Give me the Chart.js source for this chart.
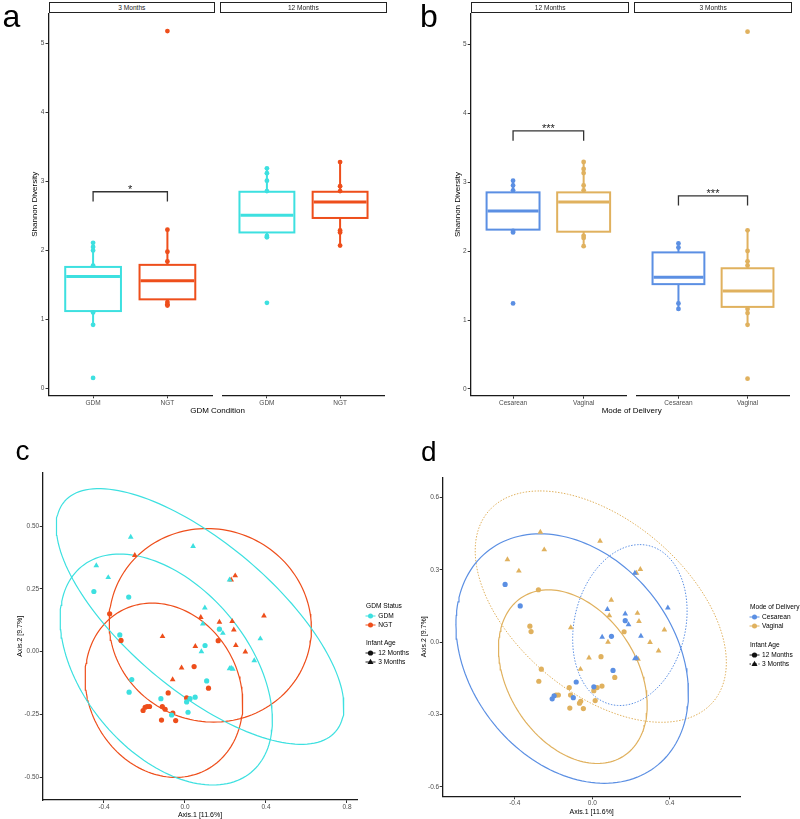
<!DOCTYPE html>
<html><head><meta charset="utf-8">
<script src="https://cdn.jsdelivr.net/npm/chart.js@4.4.1/dist/chart.umd.min.js"></script>
<style>
html,body{margin:0;padding:0;background:#fff}
body{width:800px;height:819px;position:relative;overflow:hidden;font-family:"Liberation Sans",Arial,Helvetica,sans-serif}
canvas{position:absolute}
.t{position:absolute;white-space:nowrap;color:#000}
.c{transform:translate(-50%,-50%);line-height:1}
.strip{position:absolute;box-sizing:border-box;border:1px solid #222;background:#fff;font-size:6.6px;color:#1a1a1a;display:flex;align-items:center;justify-content:center}
.lg{position:absolute;font-size:6.6px;line-height:8px;color:#000;white-space:nowrap}
svg.k{position:absolute;overflow:visible}
</style></head><body>

<canvas id="a1" width="216" height="420" style="left:0;top:0"></canvas>
<canvas id="a2" width="169" height="420" style="left:219px;top:0"></canvas>
<canvas id="b1" width="230" height="420" style="left:400px;top:0"></canvas>
<canvas id="b2" width="160" height="420" style="left:633px;top:0"></canvas>
<canvas id="cc" width="400" height="379" style="left:0;top:440px"></canvas>
<canvas id="dd" width="400" height="379" style="left:400px;top:440px"></canvas>

<div class="t" style="left:2.5px;top:-0.4px;font-size:32px;line-height:32px">a</div>
<div class="t" style="left:420px;top:-0.4px;font-size:32px;line-height:32px">b</div>
<div class="t" style="left:15.5px;top:437px;font-size:28px;line-height:28px">c</div>
<div class="t" style="left:421px;top:438px;font-size:28px;line-height:28px">d</div>

<div class="strip" style="left:48.7px;top:1.7px;width:166.3px;height:11.6px">3 Months</div>
<div class="strip" style="left:220px;top:1.7px;width:166.7px;height:11.6px">12 Months</div>
<div class="strip" style="left:471px;top:1.7px;width:158.3px;height:11.6px">12 Months</div>
<div class="strip" style="left:634px;top:1.7px;width:158.3px;height:11.6px">3 Months</div>

<div class="t c" style="left:217.5px;top:410.5px;font-size:8px">GDM Condition</div>
<div class="t c" style="left:631.7px;top:411px;font-size:8px">Mode of Delivery</div>

<!-- legend c -->
<div class="lg" style="left:366px;top:601.7px">GDM Status</div>
<svg class="k" style="left:364.5px;top:612px" width="11" height="8"><line x1="0.5" y1="4" x2="10.5" y2="4" stroke="#3de0e0" stroke-width="1"/><circle cx="5.5" cy="4" r="2.5" fill="#3de0e0"/></svg>
<div class="lg" style="left:378.3px;top:612px">GDM</div>
<svg class="k" style="left:364.5px;top:621.3px" width="11" height="8"><line x1="0.5" y1="4" x2="10.5" y2="4" stroke="#ee4e1b" stroke-width="1"/><circle cx="5.5" cy="4" r="2.5" fill="#ee4e1b"/></svg>
<div class="lg" style="left:378.3px;top:621.3px">NGT</div>
<div class="lg" style="left:366px;top:639.3px">Infant Age</div>
<svg class="k" style="left:364.5px;top:649.3px" width="11" height="8"><line x1="0.5" y1="4" x2="10.5" y2="4" stroke="#222" stroke-width="1"/><circle cx="5.5" cy="4" r="2.6" fill="#111"/></svg>
<div class="lg" style="left:378.3px;top:649.3px">12 Months</div>
<svg class="k" style="left:364.5px;top:658.3px" width="11" height="8"><line x1="0.5" y1="4" x2="10.5" y2="4" stroke="#222" stroke-width="1"/><polygon points="5.5,0.8 8.5,6 2.5,6" fill="#111"/></svg>
<div class="lg" style="left:378.3px;top:658.3px">3 Months</div>

<!-- legend d -->
<div class="lg" style="left:750px;top:602.7px">Mode of Delivery</div>
<svg class="k" style="left:748.8px;top:613px" width="11" height="8"><line x1="0.5" y1="4" x2="10.5" y2="4" stroke="#5b8fe3" stroke-width="1"/><circle cx="5.5" cy="4" r="2.5" fill="#5b8fe3"/></svg>
<div class="lg" style="left:762px;top:613px">Cesarean</div>
<svg class="k" style="left:748.8px;top:622px" width="11" height="8"><line x1="0.5" y1="4" x2="10.5" y2="4" stroke="#e0b15e" stroke-width="1"/><circle cx="5.5" cy="4" r="2.5" fill="#e0b15e"/></svg>
<div class="lg" style="left:762px;top:622px">Vaginal</div>
<div class="lg" style="left:750px;top:641px">Infant Age</div>
<svg class="k" style="left:748.8px;top:651px" width="11" height="8"><line x1="0.5" y1="4" x2="10.5" y2="4" stroke="#222" stroke-width="1"/><circle cx="5.5" cy="4" r="2.6" fill="#111"/></svg>
<div class="lg" style="left:762px;top:651px">12 Months</div>
<svg class="k" style="left:748.8px;top:660px" width="11" height="8"><line x1="0.5" y1="4" x2="10.5" y2="4" stroke="#222" stroke-width="1" stroke-dasharray="1.5 1.5"/><polygon points="5.5,0.8 8.5,6 2.5,6" fill="#111"/></svg>
<div class="lg" style="left:762px;top:660px">3 Months</div>

<script>
// ---------------- DATA ----------------
const X_POS = [1, 2];
const SHANNON_TICKS = [0, 1, 2, 3, 4, 5];

// Panel a: GDM condition
const A_GROUPS = ['GDM', 'NGT'];
const A3_Q1 = [1.12, 1.29], A3_MED = [1.62, 1.56], A3_Q3 = [1.76, 1.79], A3_LO = [0.92, 1.21], A3_HI = [2.11, 2.30];
const A3_PTS_GDM = [2.11, 2.05, 2.00, 1.78, 1.10, 0.92, 0.15];
const A3_PTS_NGT = [5.18, 2.30, 1.98, 1.84, 1.25, 1.22, 1.20];
const A3_BRACKET = [2.71, 2.85];
const A3_SIG = '*', A3_SIG_Y = 2.93;
const A12_Q1 = [2.26, 2.47], A12_MED = [2.51, 2.70], A12_Q3 = [2.85, 2.85], A12_LO = [2.20, 2.07], A12_HI = [3.19, 3.28];
const A12_PTS_GDM = [3.19, 3.12, 3.01, 2.86, 2.21, 2.19, 1.24];
const A12_PTS_NGT = [3.28, 2.93, 2.86, 2.29, 2.26, 2.07];

// Panel b: Mode of delivery
const B_GROUPS = ['Cesarean', 'Vaginal'];
const B12_Q1 = [2.31, 2.28], B12_MED = [2.58, 2.71], B12_Q3 = [2.85, 2.85], B12_LO = [2.27, 2.07], B12_HI = [3.02, 3.29];
const B12_PTS_CES = [3.02, 2.95, 2.88, 2.29, 2.27, 1.24];
const B12_PTS_VAG = [3.29, 3.19, 3.13, 2.95, 2.88, 2.22, 2.19, 2.07];
const B12_BRACKET = [3.60, 3.74];
const B12_SIG = '***', B12_SIG_Y = 3.82;
const B3_Q1 = [1.52, 1.19], B3_MED = [1.62, 1.42], B3_Q3 = [1.98, 1.75], B3_LO = [1.16, 0.93], B3_HI = [2.11, 2.30];
const B3_PTS_CES = [2.11, 2.05, 1.24, 1.16];
const B3_PTS_VAG = [5.18, 2.30, 2.00, 1.85, 1.79, 1.16, 1.10, 0.93, 0.15];
const B3_BRACKET = [2.66, 2.80];
const B3_SIG = '***', B3_SIG_Y = 2.88;

// Panels c/d: PCoA samples
const PCOA_X = [
 -0.268,-0.438,-0.379,0.040,0.220,0.098,0.088,0.187,0.081,0.372,0.342,0.220,0.228,0.236,
 -0.450,-0.278,-0.322,-0.263,-0.276,0.170,0.099,0.107,-0.119,0.050,0.025,0.008,0.015,-0.066,
 -0.248,0.228,0.248,0.078,0.170,0.233,0.390,0.241,-0.111,0.051,0.251,0.298,-0.017,-0.061,
 -0.372,-0.316,0.164,0.045,0.116,-0.083,0.008,-0.207,-0.197,-0.187,-0.175,-0.112,-0.098,-0.060,-0.116,-0.046];
const PCOA_Y = [
 0.456,0.342,0.295,0.419,0.286,0.174,0.110,0.073,0.000,0.051,-0.036,-0.068,-0.066,-0.070,
 0.239,0.217,0.066,-0.112,-0.162,0.089,0.024,-0.117,-0.188,-0.182,-0.188,-0.201,-0.242,-0.253,
 0.383,0.286,0.302,0.136,0.117,0.120,0.142,0.086,0.060,0.021,0.025,-0.001,-0.065,-0.112,
 0.150,0.044,0.043,-0.060,-0.146,-0.165,-0.185,-0.235,-0.222,-0.219,-0.219,-0.219,-0.230,-0.245,-0.273,-0.275];
const GDM_STATUS = [].concat(Array(14).fill('GDM'), Array(14).fill('GDM'), Array(14).fill('NGT'), Array(16).fill('NGT'));
const INFANT_AGE = [].concat(Array(14).fill('3 Months'), Array(14).fill('12 Months'), Array(14).fill('3 Months'), Array(16).fill('12 Months'));
const DELIVERY = [
 'V','V','V','V','C','V','V','C','V','V','V','C','C','V',
 'C','V','V','V','V','C','C','C','V','V','V','V','V','V',
 'V','V','V','C','C','V','C','V','V','C','C','V','V','V',
 'C','V','V','V','V','C','C','C','C','V','V','V','C','V','V','V'].map(d => d === 'C' ? 'Cesarean' : 'Vaginal');

const C_X_TICKS = [-0.4, 0.0, 0.4, 0.8], C_X_LABELS = ['-0.4', '0.0', '0.4', '0.8'];
const C_Y_TICKS = [-0.5, -0.25, 0, 0.25, 0.5], C_Y_LABELS = ['-0.50', '-0.25', '0.00', '0.25', '0.50'];
const D_X_TICKS = [-0.4, 0.0, 0.4], D_X_LABELS = ['-0.4', '0.0', '0.4'];
const D_Y_TICKS = [-0.6, -0.3, 0, 0.3, 0.6], D_Y_LABELS = ['-0.6', '-0.3', '0.0', '0.3', '0.6'];

// confidence ellipses (centre + conjugate semi-axes)
const C_ELL_GROUP = ['GDM', 'GDM', 'NGT', 'NGT'];
const C_ELL_CX = [0.0744, -0.0926, 0.1248, -0.1041];
const C_ELL_CY = [0.1396, -0.0718, 0.1044, -0.1543];
const C_ELL_AX = [-0.670, -0.2298, -0.0165, -0.0579];
const C_ELL_AY = [0.458, 0.4601, 0.3856, 0.3471];
const C_ELL_BX = [0.2357, 0.471, 0.4992, 0.385];
const C_ELL_BY = [0.2229, 0, 0, 0];
const D_ELL_GROUP = ['Cesarean', 'Cesarean', 'Vaginal', 'Vaginal'];
const D_ELL_AGE = ['12 Months', '3 Months', '12 Months', '3 Months'];
const D_ELL_CX = [-0.1039, 0.194, -0.1004, 0.0438];
const D_ELL_CY = [-0.068, 0.0708, -0.143, 0.1472];
const D_ELL_AX = [-0.1657, 0.0515, -0.1262, -0.3133];
const D_ELL_AY = [0.5167, 0.3333, 0.3597, 0.4792];
const D_ELL_BX = [0.5767, 0.2908, 0.3624, 0.5674];
const D_ELL_BY = [0, 0, 0, 0];

// ---------------- STYLE ----------------
const FONT = '"Liberation Sans", Arial, Helvetica, sans-serif';
const COL = {GDM: '#3de0e0', NGT: '#ee4e1b', Cesarean: '#5b8fe3', Vaginal: '#e0b15e'};
const BOX_HALF = 0.375;

function makeBoxPlugin(st, colors, sig) {
  return {
    id: 'boxes',
    beforeDatasetsDraw(chart) {
      const {ctx, scales: {x, y}} = chart;
      ctx.save();
      X_POS.forEach((p, i) => {
        const xc = x.getPixelForValue(p), xl = x.getPixelForValue(p - BOX_HALF), xr = x.getPixelForValue(p + BOX_HALF);
        const y1 = y.getPixelForValue(st.q1[i]), y3 = y.getPixelForValue(st.q3[i]), ym = y.getPixelForValue(st.med[i]);
        const ylo = y.getPixelForValue(st.lo[i]), yhi = y.getPixelForValue(st.hi[i]);
        ctx.strokeStyle = colors[i];
        ctx.lineWidth = 2;
        ctx.beginPath();
        ctx.moveTo(xc, y3); ctx.lineTo(xc, yhi);
        ctx.moveTo(xc, y1); ctx.lineTo(xc, ylo);
        ctx.stroke();
        ctx.fillStyle = '#fff';
        ctx.fillRect(xl, y3, xr - xl, y1 - y3);
        ctx.strokeRect(xl, y3, xr - xl, y1 - y3);
        ctx.lineWidth = 3;
        ctx.beginPath(); ctx.moveTo(xl + 1, ym); ctx.lineTo(xr - 1, ym); ctx.stroke();
      });
      ctx.restore();
    },
    afterDatasetsDraw(chart) {
      if (!sig) return;
      const {ctx, scales: {x, y}} = chart;
      ctx.save();
      ctx.fillStyle = '#222';
      ctx.font = '11px ' + FONT;
      ctx.textAlign = 'center';
      ctx.textBaseline = 'alphabetic';
      ctx.fillText(sig.text, x.getPixelForValue(1.5), y.getPixelForValue(sig.y) + 0.57 * 11);
      ctx.restore();
    }
  };
}

const gridOpt = {drawOnChartArea: false, drawTicks: true, tickLength: 3, color: '#333', lineWidth: 1};
const borderOpt = {display: true, color: '#1a1a1a', width: 1.3};
const tickFont = {size: 6.5, family: FONT};

function boxFacet(id, cfg) {
  const datasets = cfg.pts.map((vals, i) => ({
    data: vals.map(v => ({x: X_POS[i], y: v})),
    backgroundColor: cfg.colors[i], borderColor: cfg.colors[i],
    pointRadius: 2.4, borderWidth: 0, pointStyle: 'circle'
  }));
  if (cfg.bracket) {
    const [lo, hi] = cfg.bracket;
    datasets.push({data: [{x: 1, y: lo}, {x: 1, y: hi}, {x: 2, y: hi}, {x: 2, y: lo}],
      showLine: true, borderColor: '#333', borderWidth: 1.3, pointRadius: 0, fill: false});
  }
  return new Chart(document.getElementById(id), {
    type: 'scatter',
    data: {datasets},
    options: {
      responsive: false, animation: false, events: [], devicePixelRatio: 1,
      layout: {padding: {left: cfg.padL, right: cfg.padR, top: cfg.padT, bottom: 0}},
      plugins: {legend: {display: false}, tooltip: {enabled: false}},
      scales: {
        x: {type: 'linear', min: 0.4, max: 2.6,
          afterBuildTicks: s => { s.ticks = X_POS.map(v => ({value: v})); },
          afterFit: s => { s.height = cfg.xH; },
          ticks: {callback: (v, i) => cfg.labels[i], color: '#4d4d4d', font: tickFont, padding: 1, maxRotation: 0, autoSkip: false},
          grid: gridOpt, border: borderOpt},
        y: {display: cfg.showY, min: cfg.yMin, max: cfg.yMax,
          afterBuildTicks: s => { s.ticks = SHANNON_TICKS.map(v => ({value: v})); },
          afterFit: s => { s.width = cfg.yW; },
          ticks: {callback: v => String(v), color: '#4d4d4d', font: tickFont, padding: 1.2},
          grid: gridOpt, border: borderOpt,
          title: {display: true, text: 'Shannon Diversity', color: '#000', font: {size: 8, family: FONT}, padding: {top: cfg.titlePad || 0, bottom: 0}}}
      }
    },
    plugins: [makeBoxPlugin(cfg.stats, cfg.colors, cfg.sig)]
  });
}

// Panel a
boxFacet('a1', {padL: 0, padR: 1, padT: 13.3, xH: 24.7, yW: 48.5, titlePad: 30.2, showY: true,
  yMin: -0.1015, yMax: 5.438, labels: A_GROUPS, colors: [COL.GDM, COL.NGT],
  pts: [A3_PTS_GDM, A3_PTS_NGT], stats: {q1: A3_Q1, med: A3_MED, q3: A3_Q3, lo: A3_LO, hi: A3_HI},
  bracket: A3_BRACKET, sig: {text: A3_SIG, y: A3_SIG_Y}});
boxFacet('a2', {padL: 1, padR: 1, padT: 13.3, xH: 24.7, yW: 0, showY: false,
  yMin: -0.1015, yMax: 5.438, labels: A_GROUPS, colors: [COL.GDM, COL.NGT],
  pts: [A12_PTS_GDM, A12_PTS_NGT], stats: {q1: A12_Q1, med: A12_MED, q3: A12_Q3, lo: A12_LO, hi: A12_HI}});
// Panel b
boxFacet('b1', {padL: 0, padR: 0.7, padT: 13.3, xH: 24.3, yW: 70.7, titlePad: 52.7, showY: true,
  yMin: -0.0972, yMax: 5.4457, labels: B_GROUPS, colors: [COL.Cesarean, COL.Vaginal],
  pts: [B12_PTS_CES, B12_PTS_VAG], stats: {q1: B12_Q1, med: B12_MED, q3: B12_Q3, lo: B12_LO, hi: B12_HI},
  bracket: B12_BRACKET, sig: {text: B12_SIG, y: B12_SIG_Y}});
boxFacet('b2', {padL: 1, padR: 0.7, padT: 13.3, xH: 24.3, yW: 0, showY: false,
  yMin: -0.0972, yMax: 5.4457, labels: B_GROUPS, colors: [COL.Cesarean, COL.Vaginal],
  pts: [B3_PTS_CES, B3_PTS_VAG], stats: {q1: B3_Q1, med: B3_MED, q3: B3_Q3, lo: B3_LO, hi: B3_HI},
  bracket: B3_BRACKET, sig: {text: B3_SIG, y: B3_SIG_Y}});

// PCoA panels
function pointSets(groupArr, groups) {
  return groups.map(g => {
    const idx = PCOA_X.map((_, i) => i).filter(i => groupArr[i] === g);
    return {
      data: idx.map(i => ({x: PCOA_X[i], y: PCOA_Y[i]})),
      pointStyle: idx.map(i => INFANT_AGE[i] === '3 Months' ? 'triangle' : 'circle'),
      pointRadius: idx.map(i => INFANT_AGE[i] === '3 Months' ? 3.3 : 2.6),
      backgroundColor: COL[g], borderColor: COL[g], borderWidth: 0
    };
  });
}
function ellipseSet(cx, cy, ax, ay, bx, by, color, dashed) {
  const pts = [];
  for (let k = 0; k <= 160; k++) {
    const t = 2 * Math.PI * k / 160;
    pts.push({x: cx + ax * Math.cos(t) + bx * Math.sin(t), y: cy + ay * Math.cos(t) + by * Math.sin(t)});
  }
  return {data: pts, showLine: true, pointRadius: 0, borderColor: color, borderWidth: dashed ? 1 : 1.2,
    borderDash: dashed ? [1.5, 1.5] : [], fill: false, tension: 0};
}
function pcoaChart(id, cfg) {
  return new Chart(document.getElementById(id), {
    type: 'scatter',
    data: {datasets: cfg.datasets},
    options: {
      responsive: false, animation: false, events: [], devicePixelRatio: 1,
      layout: {padding: {left: 0, right: cfg.padR, top: cfg.padT, bottom: 0}},
      plugins: {legend: {display: false}, tooltip: {enabled: false}},
      scales: {
        x: {type: 'linear', min: cfg.xMin, max: cfg.xMax,
          afterBuildTicks: s => { s.ticks = cfg.xTicks.map(v => ({value: v})); },
          afterFit: s => { s.height = cfg.xH; },
          ticks: {callback: (v, i) => cfg.xLabels[i], color: '#4d4d4d', font: tickFont, padding: 0.5, maxRotation: 0, autoSkip: false},
          grid: gridOpt, border: borderOpt,
          title: {display: true, text: 'Axis.1 [11.6%]', color: '#000', font: {size: 7, family: FONT}, padding: {top: 0, bottom: cfg.xTitlePad}}},
        y: {type: 'linear', min: cfg.yMin, max: cfg.yMax,
          afterBuildTicks: s => { s.ticks = cfg.yTicks.map(v => ({value: v})); },
          afterFit: s => { s.width = 42.7; },
          ticks: {callback: (v, i) => cfg.yLabels[i], color: '#4d4d4d', font: tickFont, padding: 0.5},
          grid: gridOpt, border: borderOpt,
          title: {display: true, text: 'Axis.2 [9.7%]', color: '#000', font: {size: 7, family: FONT}, padding: {top: cfg.yTitlePad, bottom: 0}}}
      }
    }
  });
}

const cSets = pointSets(GDM_STATUS, ['GDM', 'NGT']).concat(
  C_ELL_CX.map((_, i) => ellipseSet(C_ELL_CX[i], C_ELL_CY[i], C_ELL_AX[i], C_ELL_AY[i], C_ELL_BX[i], C_ELL_BY[i], COL[C_ELL_GROUP[i]], false)));
pcoaChart('cc', {datasets: cSets, padR: 42.7, padT: 32.7, xH: 19, xTitlePad: 0.1, yTitlePad: 15.5,
  xMin: -0.7027, xMax: 0.8509, yMin: -0.5916, yMax: 0.7124,
  xTicks: C_X_TICKS, xLabels: C_X_LABELS, yTicks: C_Y_TICKS, yLabels: C_Y_LABELS});

const dSets = pointSets(DELIVERY, ['Cesarean', 'Vaginal']).concat(
  D_ELL_CX.map((_, i) => ellipseSet(D_ELL_CX[i], D_ELL_CY[i], D_ELL_AX[i], D_ELL_AY[i], D_ELL_BX[i], D_ELL_BY[i], COL[D_ELL_GROUP[i]], D_ELL_AGE[i] === '3 Months')));
pcoaChart('dd', {datasets: dSets, padR: 59.3, padT: 37.3, xH: 22.7, xTitlePad: 3.1, yTitlePad: 19.5,
  xMin: -0.7721, xMax: 0.766, yMin: -0.6386, yMax: 0.6829,
  xTicks: D_X_TICKS, xLabels: D_X_LABELS, yTicks: D_Y_TICKS, yLabels: D_Y_LABELS});
</script>
</body></html>
